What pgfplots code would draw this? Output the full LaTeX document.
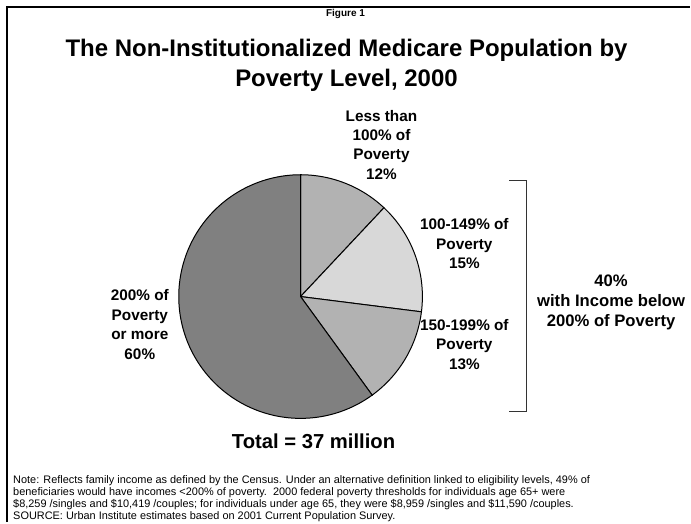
\documentclass[border=0pt]{standalone}
\usepackage{pgfplots}
\pgfplotsset{compat=1.18}
\usepackage{pgfplotstable}
\usepackage{fontspec}
\setmainfont{Liberation Sans}
\definecolor{s1}{HTML}{B2B2B2}
\definecolor{s2}{HTML}{D8D8D8}
\definecolor{s3}{HTML}{B2B2B2}
\definecolor{s4}{HTML}{808080}
\pgfplotstableread{
share col
12 s1
15 s2
13 s3
60 s4
}\piedata
\begin{document}
\begin{tikzpicture}
\begin{axis}[
  scale only axis, width=518.25pt, height=392.25pt,
  xmin=0, xmax=691, ymin=0, ymax=523,
  hide axis, clip=false,
]
\path (axis cs:0,0) rectangle (axis cs:691,523);
% frame
\draw[line width=1.5pt] (axis cs:7,0) -- (axis cs:7,516) -- (axis cs:691,516);
% pie
\def\cum{0}
\pgfplotsforeachungrouped \i in {0,1,2,3}{%
  \pgfplotstablegetelem{\i}{share}\of\piedata
  \let\val\pgfplotsretval
  \pgfplotstablegetelem{\i}{col}\of\piedata
  \let\col\pgfplotsretval
  \pgfmathsetmacro\aend{90-3.6*\cum}%
  \pgfmathsetmacro\astart{90-3.6*(\cum+\val)}%
  \edef\doslice{\noexpand\addplot[fill=\col, draw=black, line width=0.75pt, domain=\astart:\aend, samples=120] ({301+122*cos(x)},{226+122*sin(x)}) -- (axis cs:301,226) -- cycle;}%
  \doslice
  \pgfmathsetmacro\cum{\cum+\val}%
}
% texts
\node[font=\fontsize{7.5}{9}\selectfont\bfseries] at (axis cs:346,509.5) {Figure 1};
\node[font=\fontsize{18}{22.5}\selectfont\bfseries, align=center] at (axis cs:347,458) {The Non-Institutionalized Medicare Population by\\Poverty Level, 2000};
\node[font=\fontsize{11.5}{14.6}\selectfont\bfseries, align=center] at (axis cs:382,378) {Less than\\100\% of\\Poverty\\12\%};
\node[font=\fontsize{11.5}{14.6}\selectfont\bfseries, align=center] at (axis cs:465,279) {100-149\% of\\Poverty\\15\%};
\node[font=\fontsize{11.5}{14.6}\selectfont\bfseries, align=center] at (axis cs:465,178) {150-199\% of\\Poverty\\13\%};
\node[font=\fontsize{11.5}{14.6}\selectfont\bfseries, align=center] at (axis cs:140,198) {200\% of\\Poverty\\or more\\60\%};
\node[font=\fontsize{12.5}{14.8}\selectfont\bfseries, align=center] at (axis cs:612,220) {40\%\\with Income below\\200\% of Poverty};
\draw[line width=0.9pt, black!80] (axis cs:510,342) -- (axis cs:527,342) -- (axis cs:527,111) -- (axis cs:510,111);
\node[font=\fontsize{15.2}{18}\selectfont\bfseries] at (axis cs:314,81) {Total = 37 million};
\begin{scope}[every node/.style={font=\fontsize{8.2}{9.2}\selectfont, anchor=base west, inner sep=0pt}]
\node at (axis cs:13,39) {Note: Reflects family income as defined by the Census. Under an alternative definition linked to eligibility levels, 49\% of};
\node at (axis cs:13,27) {beneficiaries would have incomes <200\% of poverty.\ \ 2000 federal poverty thresholds for individuals age 65+ were};
\node at (axis cs:13,15) {\$8,259 /singles and \$10,419 /couples; for individuals under age 65, they were \$8,959 /singles and \$11,590 /couples.};
\node at (axis cs:13,3) {SOURCE: Urban Institute estimates based on 2001 Current Population Survey.};
\end{scope}
\end{axis}
\end{tikzpicture}
\end{document}
